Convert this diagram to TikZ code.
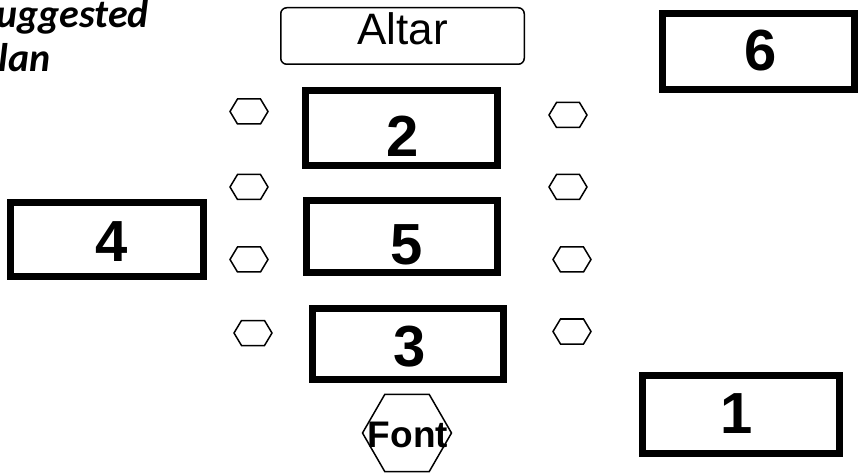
\documentclass[tikz,border=0pt]{standalone}
\usepackage{fontspec}
\setmainfont{Liberation Sans}
\newfontfamily\titlefont{Carlito}
\usetikzlibrary{shapes.geometric}

\tikzset{
  room/.style={draw, line width=7pt, inner sep=0pt},
  num/.style={font=\fontsize{58}{58}\selectfont\bfseries},
  title/.style={inner sep=0pt, font=\titlefont\fontsize{40}{40}\selectfont\bfseries\itshape},
  pew/.pic={
    \draw[line width=1.5pt]
      (-19,0) -- (-11.5,-12.5) -- (11.5,-12.5) -- (19,0)
      -- (11.5,12.5) -- (-11.5,12.5) -- cycle;
  }
}

\begin{document}
\begin{tikzpicture}[x=1pt,y=-1pt]
  \clip (0,0) rectangle (860,473);
  % title, cut at the left edge
  \node[title, anchor=base east] (sugg) at (149,28) {Suggested};
  \coordinate (planbase) at (0,72);
  \node[title, anchor=base west] (plan) at (sugg.base west |- planbase) {Plan};
  % altar
  \node[draw, line width=1.5pt, rounded corners=6pt, inner sep=0pt,
    minimum width=243.5pt, minimum height=56.5pt, text depth=14pt,
    font=\fontsize{44}{44}\selectfont] (altar) at (402.5,36) {Altar};
  % rooms
  \node[room, minimum width=192pt, minimum height=75pt] (two) at (401.5,128) {};
  \node[num] (ntwo) at (403,136) {2};
  \node[room, minimum width=191pt, minimum height=72pt] (five) at (402,236.5) {};
  \node[num] (nfive) at (407,244.5) {5};
  \node[room, minimum width=191pt, minimum height=71pt] (three) at (408,344) {};
  \node[num] (nthree) at (410,346.5) {3};
  \node[room, minimum width=193pt, minimum height=74pt] (four) at (107,239.5) {};
  \node[num] (nfour) at (112,241.5) {4};
  \node[room, minimum width=192pt, minimum height=76pt] (six) at (758.5,51.5) {};
  \node[num] (nsix) at (761,51) {6};
  \node[room, minimum width=197pt, minimum height=78pt] (one) at (741,414.5) {};
  \node[num] (none) at (737,414) {1};
  % pews
  \foreach \x/\y in {249/111.5, 249/187, 249/259.5, 253/333,
                     568/115, 568/187, 572/259.5, 572/331.5}
    \pic at (\x,\y) {pew};
  % font
  \node[draw, regular polygon, regular polygon sides=6, inner sep=0pt,
    minimum size=89pt, line width=1.5pt] (font) at (407,433) {};
  \node[font=\fontsize{37}{37}\selectfont\bfseries] (fontlabel) at (408,435) {Font};
\end{tikzpicture}
\end{document}
